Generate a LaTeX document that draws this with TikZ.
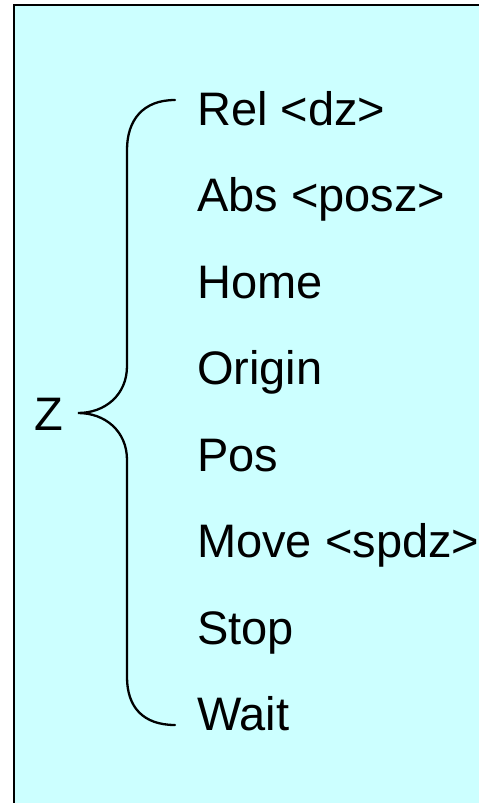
\documentclass[tikz,border=0pt]{standalone}
\usepackage{fontspec}
\setmainfont{Liberation Sans}
\usepackage{tikz}
\usetikzlibrary{positioning, calc}
\definecolor{panelcyan}{RGB}{204, 255, 255}

\tikzset{
  cmdlabel/.style={anchor=base west, inner sep=0pt, font=\fontsize{47}{56}\selectfont},
  bracepath/.style={line width=2.3pt, line cap=round}
}

\begin{document}
\begin{tikzpicture}[x=1pt, y=-1pt]
\useasboundingbox (0,0) rectangle (479,803);
\clip (0,0) rectangle (479,803);

% Panel
\draw[fill=panelcyan, line width=2pt] (14,5) rectangle (500,830);

% Axis label
\node[cmdlabel] (axis) at (34,430) {Z};

% Commands
\foreach \lbl [count=\i from 0] in {Rel <dz>, Abs <posz>, Home, Origin, Pos, Move <spdz>, Stop, Wait}
  \node[cmdlabel] (cmd\i) at (197, 125+86.5*\i) {\lbl};

% Brace
\coordinate (btop) at (175,100);
\coordinate (btip) at (78,413);
\coordinate (bbot) at (175,725);
\draw[bracepath] (btop) .. controls (143,100) and (127,120) .. (127,150)
  -- (127,366) .. controls (127,395) and (105,413) .. (btip)
  .. controls (105,413) and (127,431) .. (127,460)
  -- (127,677) .. controls (127,707) and (143,725) .. (bbot);
\end{tikzpicture}
\end{document}
